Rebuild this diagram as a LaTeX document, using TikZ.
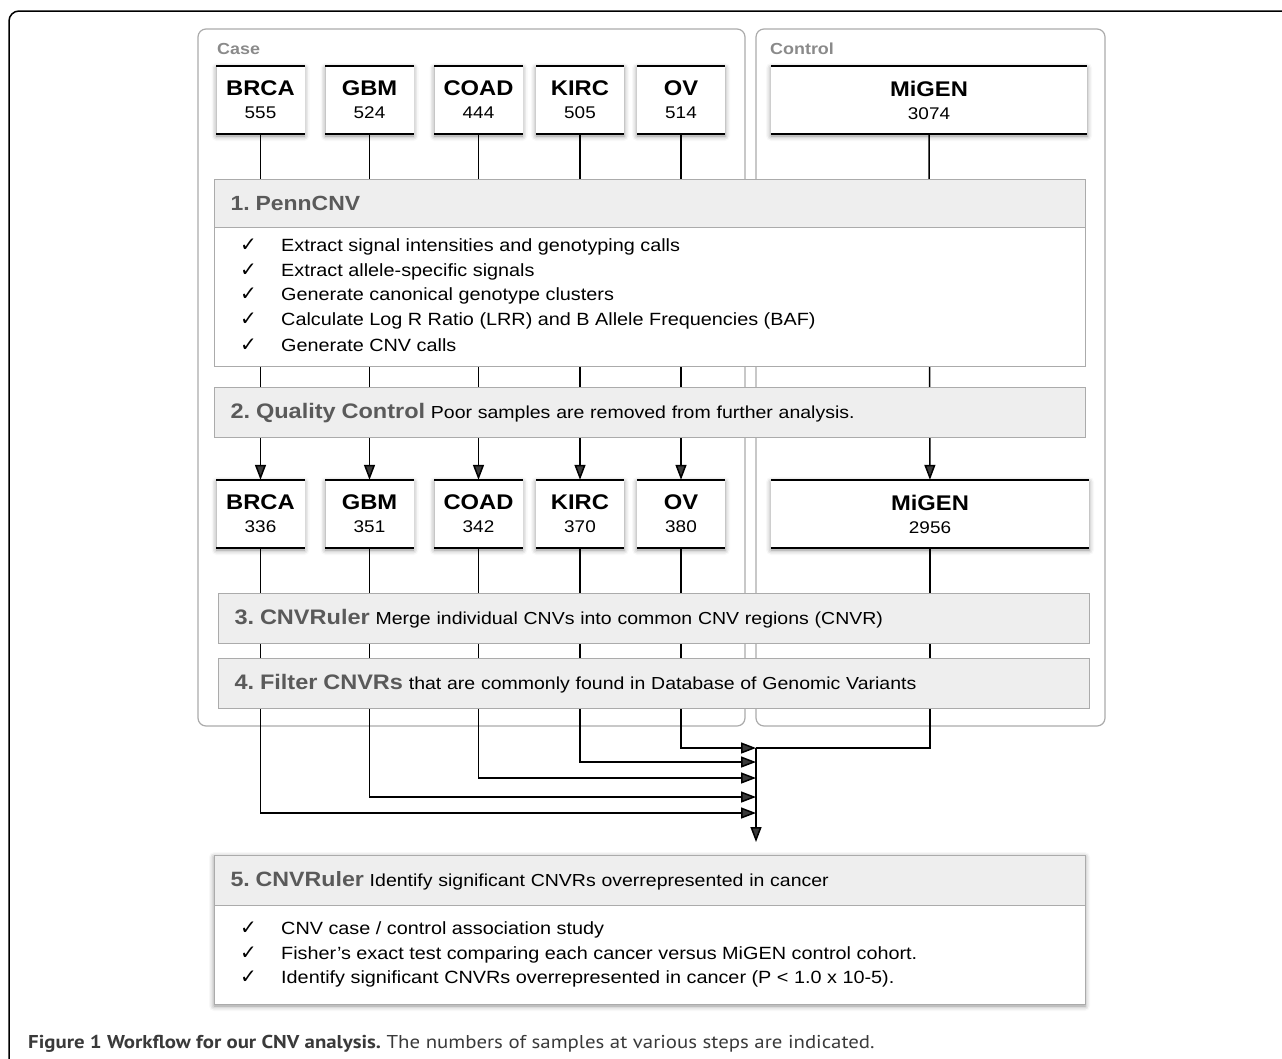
\documentclass[tikz,border=0pt]{standalone}
\usepackage{fontspec}
\setmainfont{Liberation Sans}[FakeStretch=1.12]
\newfontfamily\symfont{DejaVu Sans}
\newfontfamily\capfont{PT Sans}[FakeStretch=1.12]
\usetikzlibrary{arrows.meta,shadows.blur}
\frenchspacing

\pgfdeclarelayer{background}
\pgfsetlayers{background,main}

\definecolor{rim}{HTML}{ABABAB}
\definecolor{band}{HTML}{EEEEEE}
\definecolor{steptext}{HTML}{5A5A5A}
\definecolor{grouptext}{HTML}{8A8A8A}
\definecolor{captext}{HTML}{3A3A3A}

\tikzstyle{group}=[draw=rim, line width=1.2pt, rounded corners=8pt]
\tikzstyle{group-label}=[anchor=west, inner sep=0pt, text=grouptext, font=\bfseries\fontsize{16}{18}\selectfont]
\tikzstyle{soft-shadow}=[blur shadow={shadow xshift=0pt, shadow yshift=-2pt, shadow blur radius=5pt, shadow opacity=45}]
\tikzstyle{sample}=[fill=white, soft-shadow, minimum width=88pt, minimum height=68pt, inner sep=0pt, align=center, font=\fontsize{16.9}{23}\selectfont]
\tikzstyle{rimline}=[line width=1.6pt]
\tikzstyle{stepband}=[draw=rim, fill=band, line width=1.2pt, anchor=north west, minimum width=871pt, minimum height=50pt, inner xsep=16pt, inner ysep=0pt, text width=839pt, align=left, font=\fontsize{17.4}{20}\selectfont]
\tikzstyle{stepbody}=[draw=rim, fill=white, line width=1.2pt, anchor=north west, minimum width=871pt]
\tikzstyle{item}=[anchor=west, inner sep=0pt, font=\fontsize{17.7}{20}\selectfont]
\tikzstyle{flow}=[line width=1.5pt, -{Triangle[length=15pt,width=11pt]}]
\tikzstyle{link}=[line width=1.5pt]

\newcommand\steptitle[2]{{\color{steptext}\bfseries\fontsize{#1}{#1}\selectfont #2}}
\newcommand\samplename[1]{\textbf{\fontsize{21.2}{23}\selectfont #1}}
\newcommand\tick{\makebox[41pt][l]{\symfont\fontsize{20}{20}\selectfont ✓}}

\begin{document}
\begin{tikzpicture}[x=1pt, y=-1pt]
  \useasboundingbox (0,0) rectangle (1282,1058);
  % frame of the figure
  \draw[line width=1.5pt, rounded corners=10pt] (9,1080) -- (9,11) -- (1300,11);

  \node[group-label] (caselabel) at (217,49) {Case};
  \node[group-label] (controllabel) at (770,49) {Control};

  % samples before and after quality control
  \foreach \nm/\lab/\x/\a/\b in {brca/BRCA/260.5/555/336, gbm/GBM/369.5/524/351,
      coad/COAD/478.5/444/342, kirc/KIRC/580/505/370, ov/OV/681/514/380} {
    \node[sample] (\nm1) at (\x,100) {\samplename{\lab}\\\a};
    \node[sample] (\nm2) at (\x,514) {\samplename{\lab}\\\b};
  }
  \node[sample, minimum width=316pt] (migen1) at (929,100) {\samplename{MiGEN}\\3074};
  \node[sample, minimum width=318pt] (migen2) at (930,514) {\samplename{MiGEN}\\2956};
  \foreach \nm in {brca,gbm,coad,kirc,ov,migen} {
    \draw[rimline] (\nm1.north west) -- (\nm1.north east) (\nm1.south west) -- (\nm1.south east);
    \draw[rimline] (\nm2.north west) -- (\nm2.north east) (\nm2.south west) -- (\nm2.south east);
  }

  % 1. PennCNV
  \node[stepband, minimum height=48pt] (penn) at (214,179) {\steptitle{20.5}{1. PennCNV}};
  \node[stepbody, minimum height=139pt] (pennbody) at (214,227) {};
  \foreach \t [count=\i] in {{Extract signal intensities and genotyping calls},
      {Extract allele-specific signals}, {Generate canonical genotype clusters},
      {Calculate Log R Ratio (LRR) and B Allele Frequencies (BAF)}, {Generate CNV calls}}
    \node[item] (penn\i) at (240,{222.5+24.5*\i}) {\tick\t};

  % 2. - 4.
  \node[stepband] (qc) at (214,387) {\steptitle{21}{2. Quality Control} Poor samples are removed from further analysis.};
  \node[stepband] (cruler) at (218,593) {\steptitle{21}{3. CNVRuler} Merge individual CNVs into common CNV regions (CNVR)};
  \node[stepband] (filter) at (218,658) {\steptitle{21}{4. Filter CNVRs} that are commonly found in Database of Genomic Variants};

  % 5. CNVRuler
  \fill[white, soft-shadow] (214,855) rectangle (1085,1004);
  \node[stepband] (result) at (214,855) {\steptitle{20.7}{5. CNVRuler} Identify significant CNVRs overrepresented in cancer};
  \node[stepbody, minimum height=99pt] (resultbody) at (214,905) {};
  \foreach \t [count=\i] in {{CNV case / control association study},
      {Fisher's exact test comparing each cancer versus MiGEN control cohort.},
      {Identify significant CNVRs overrepresented in cancer (P < 1.0 x 10-5).}}
    \node[item] (result\i) at (240,{905.5+24.5*\i}) {\tick\t};

  \node[anchor=base west, inner sep=0pt, text=captext, font=\capfont\fontsize{18.6}{20}\selectfont] (caption) at (28,1048)
    {\textbf{Figure 1 Workflow for our CNV analysis.} The numbers of samples at various steps are indicated.};

  \begin{pgfonlayer}{background}
    \draw[group] (198,29) rectangle (745,726);
    \draw[group] (756,29) rectangle (1105,726);
    \foreach \nm in {brca,gbm,coad,kirc,ov,migen}
      \draw[flow] (\nm1) -- (\nm2);
    % merge into step 5
    \coordinate (join) at (756,748);
    \coordinate (sink) at (756,842);
    \foreach \nm/\y in {ov/748, kirc/762, coad/778, gbm/797, brca/813} {
      \coordinate (in-\nm) at (756,\y);
      \draw[flow] (\nm2) |- (in-\nm);
    }
    \draw[link] (migen2) |- (join);
    \draw[flow] (join) -- (sink);
  \end{pgfonlayer}
\end{tikzpicture}
\end{document}
